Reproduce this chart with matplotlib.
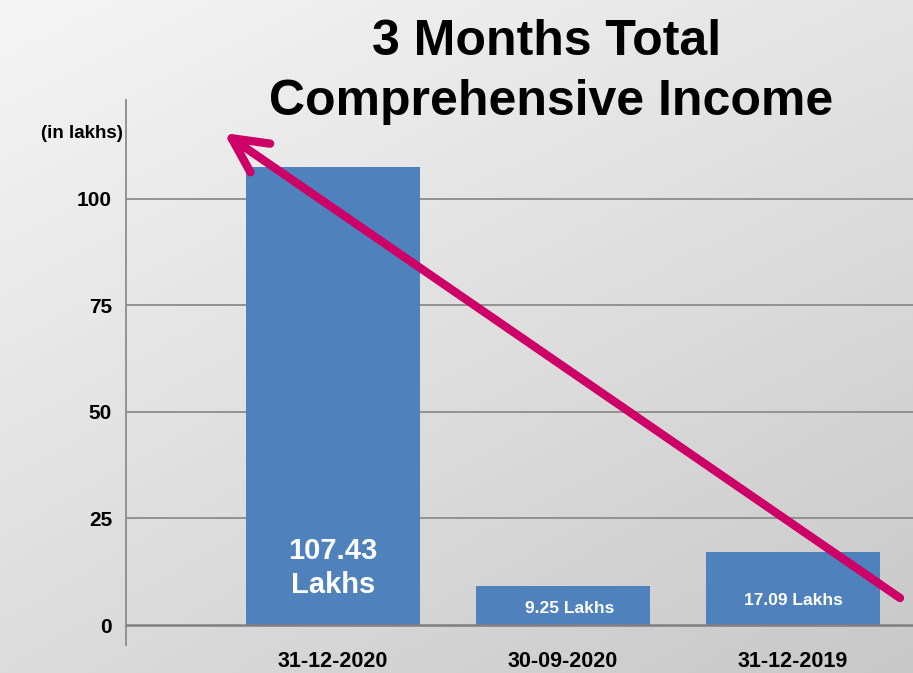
import numpy as np
import matplotlib
matplotlib.use("Agg")
import matplotlib.pyplot as plt

categories = ["31-12-2020", "30-09-2020", "31-12-2019"]
values = [107.43, 9.25, 17.09]
bar_labels = ["107.43\nLakhs", "9.25 Lakhs", "17.09 Lakhs"]
yticks = [0, 25, 50, 75, 100]
title_lines = ["3 Months Total", "Comprehensive Income"]
unit_label = "(in lakhs)"

plt.rcParams['font.family'] = ['Liberation Sans', 'DejaVu Sans']

W, H = 913, 673
fig = plt.figure(figsize=(W / 100, H / 100), dpi=100)

# background gradient
bg = fig.add_axes([0, 0, 1, 1], zorder=-10)
xx = np.linspace(0, 1, 200)
yy = np.linspace(0, 1, 200)
X, Y = np.meshgrid(xx, yy)
tl, tr, bl, br = 245, 228, 220, 200
G = (tl * (1 - X) * (1 - Y) + tr * X * (1 - Y) + bl * (1 - X) * Y + br * X * Y) / 255.0
bg.imshow(np.dstack([G, G, G]), extent=[0, 1, 0, 1], aspect='auto', origin='upper')
bg.axis('off')

ax = fig.add_axes([126 / W, 1 - 645 / H, 1 - 126 / W, (645 - 100) / H])
ax.set_facecolor('none')

x = np.arange(len(categories))
ax.bar(x, values, width=0.76, color='#4F81BD', zorder=3)

ax.set_xlim(-0.9, 2.522)
ax.set_ylim(-4.69, 123.15)
ax.set_yticks(yticks)
ax.set_yticklabels([str(t) for t in yticks], fontsize=15, fontweight='bold')
ax.set_xticks(x)
ax.set_xticklabels(categories, fontsize=15.5, fontweight='bold')
ax.tick_params(axis='y', length=0, pad=10)
ax.tick_params(axis='x', length=0, pad=4)

for t in yticks[1:]:
    ax.axhline(t, color='#8c8c8c', lw=1.3, zorder=1)
ax.axhline(0, color='#7f7f7f', lw=1.8, zorder=4)

for s in ['top', 'right', 'bottom']:
    ax.spines[s].set_visible(False)
ax.spines['left'].set_color('#8c8c8c')
ax.spines['left'].set_linewidth(1.3)

# bar value labels
offsets_pts = [41, 12, 18]
sizes = [21, 12.5, 12.5]
dx_pts = [0, 5, 0]
for i, (lab, off, sz, dx) in enumerate(zip(bar_labels, offsets_pts, sizes, dx_pts)):
    ax.annotate(lab, xy=(x[i], 0), xytext=(dx, off), textcoords='offset points',
                ha='center', va='center', color='white', fontsize=sz,
                fontweight='bold', linespacing=1.3, zorder=5)

# title
fig.text(547 / W, 1 - 55 / H, title_lines[0], ha='center', va='baseline',
         fontsize=36, fontweight='bold')
fig.text(551 / W, 1 - 115 / H, title_lines[1], ha='center', va='baseline',
         fontsize=36, fontweight='bold')

fig.text(123 / W, 1 - 133 / H, unit_label, ha='right', va='center',
         fontsize=13.5, fontweight='bold')

# trend arrow
ax.annotate('', xy=(224, H - 133), xycoords='figure pixels',
            xytext=(900, H - 598), textcoords='figure pixels',
            arrowprops=dict(arrowstyle='->,head_length=2.5,head_width=1.25',
                            color='#CC0066', lw=6, capstyle='round',
                            joinstyle='round', shrinkA=0, shrinkB=0),
            zorder=10)

fig.savefig('out.png', dpi=100)
